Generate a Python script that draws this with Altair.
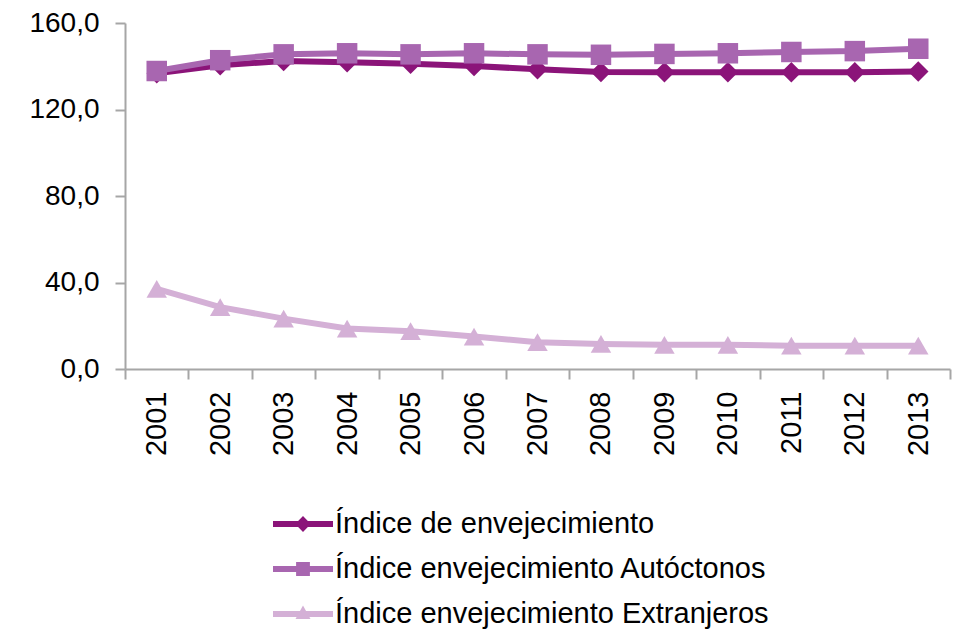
import altair as alt
import pandas as pd

years = [2001, 2002, 2003, 2004, 2005, 2006, 2007, 2008, 2009, 2010, 2011, 2012, 2013]
series_names = [
    "Índice de envejecimiento",
    "Índice envejecimiento Autóctonos",
    "Índice envejecimiento Extranjeros",
]
indice = [136.8, 140.5, 142.4, 141.9, 141.1, 140.1, 138.6, 137.3, 137.2, 137.2, 137.2, 137.2, 137.6]
autoctonos = [137.8, 142.8, 145.5, 146.0, 145.5, 146.0, 145.5, 145.3, 145.7, 146.0, 146.6, 147.0, 148.1]
extranjeros = [37.1, 28.6, 23.3, 18.7, 17.5, 15.0, 12.4, 11.6, 11.2, 11.2, 10.8, 10.8, 10.8]
y_ticks = [0, 40, 80, 120, 160]

colors = ["#8b1479", "#a866b0", "#d4b0d6"]
shapes = ["diamond", "square", "triangle-up"]
legend_paths = [
    "M-1,-0.1H1V0.1H-1Z M0,-0.27L0.26,0L0,0.27L-0.26,0Z",
    "M-1,-0.1H1V0.1H-1Z M-0.23,-0.23H0.23V0.23H-0.23Z",
    "M-1,-0.1H1V0.1H-1Z M0,-0.28L0.25,0.17L-0.25,0.17Z",
]

rows = []
for k, (name, vals) in enumerate(zip(series_names, [indice, autoctonos, extranjeros])):
    for yr, v in zip(years, vals):
        rows.append({"year": yr, "value": v, "serie": name, "ord": k})
df = pd.DataFrame(rows)

FONT = "Liberation Sans"
AXIS_COLOR = "#a6a6a6"
boundaries = [y - 0.5 for y in years] + [years[-1] + 0.5]

xscale = alt.Scale(domain=[years[0] - 0.5, years[-1] + 0.5], nice=False, zero=False)
yscale = alt.Scale(domain=[0, 160], nice=False)
cscale = alt.Scale(domain=series_names, range=colors)

yaxis = alt.Axis(
    values=y_ticks, title=None, grid=False,
    labelExpr="replace(format(datum.value, '.1f'), '.', ',')",
    labelFont=FONT, labelFontSize=28, labelColor="#000000",
    tickSize=10, tickColor=AXIS_COLOR, tickWidth=2,
    domainColor=AXIS_COLOR, domainWidth=2, labelPadding=16,
)

base = alt.Chart(df)

lines = base.mark_line(strokeWidth=6).encode(
    x=alt.X("year:Q", scale=xscale, axis=alt.Axis(
        values=boundaries, labels=False, title=None, grid=False, orient="bottom",
        tickSize=10, tickColor=AXIS_COLOR, tickWidth=2,
        domainColor=AXIS_COLOR, domainWidth=2)),
    y=alt.Y("value:Q", scale=yscale, axis=yaxis),
    color=alt.Color("serie:N", scale=cscale, legend=None),
    order=alt.Order("year:Q"),
)

points = base.mark_point(filled=True, opacity=1).encode(
    x=alt.X("year:Q", scale=xscale, axis=alt.Axis(
        values=years, format="d", title=None, grid=False, orient="bottom",
        ticks=False, domain=False, labelAngle=-90,
        labelFont=FONT, labelFontSize=29, labelColor="#000000",
        labelPadding=22, labelAlign="right", labelBaseline="middle")),
    y=alt.Y("value:Q", scale=yscale, axis=yaxis),
    color=alt.Color("serie:N", scale=cscale, legend=None),
    shape=alt.Shape("serie:N", scale=alt.Scale(domain=series_names, range=shapes), legend=None),
    size=alt.value(420),
)

leg_props = dict(
    title=None, orient="none", legendX=148, legendY=471, padding=0,
    labelFont=FONT, labelFontSize=29, labelColor="#000000", labelLimit=800,
    labelOffset=2, symbolSize=3600, symbolStrokeWidth=0, rowPadding=0,
    symbolOpacity=1,
)

legend_layer = base.transform_filter("false").mark_point(filled=True, opacity=1).encode(
    color=alt.Color("serie:N", scale=alt.Scale(domain=series_names, range=colors),
                    legend=alt.Legend(**leg_props)),
    shape=alt.Shape("serie:N", scale=alt.Scale(domain=series_names, range=legend_paths),
                    legend=alt.Legend(**leg_props)),
)

chart = alt.layer(lines, points, legend_layer).resolve_scale(
    color="independent", shape="independent"
).resolve_axis(x="independent").properties(
    width=825, height=346,
    autosize=alt.AutoSizeParams(type="none"),
    padding={"left": 117, "top": 15, "right": 2, "bottom": 262},
).configure_view(stroke=None)

chart.save("out.html", embed_options={"renderer": "svg", "actions": False})
